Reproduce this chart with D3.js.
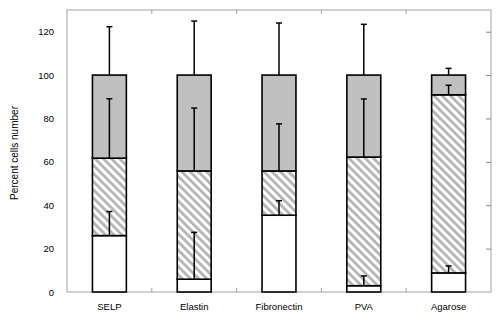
<!DOCTYPE html>
<html>
<head>
<meta charset="utf-8">
<script src="https://cdn.jsdelivr.net/npm/d3@7"></script>
<style>
  body { margin: 0; background: #fff; }
  svg { display: block; font-family: "Liberation Sans", Arial, sans-serif; }
</style>
</head>
<body>
<div id="chart"></div>
<script>
// data //
const categories = ["SELP", "Elastin", "Fibronectin", "PVA", "Agarose"];
// stacked segments (bottom -> top)
const whiteVals  = [26.0, 5.9, 35.4, 2.9, 8.8];
const hatchVals  = [35.7, 49.9, 20.4, 59.3, 82.1];
const grayVals   = [38.3, 44.2, 44.2, 37.8, 9.1];
// upper error of each segment
const whiteErr = [11.1, 21.6, 6.7, 4.5, 3.2];
const hatchErr = [27.4, 29.0, 21.7, 26.8, 4.4];
const grayErr  = [22.3, 24.9, 24.0, 23.4, 3.1];
const yTicks = [0, 20, 40, 60, 80, 100, 120];

const W = 500, H = 317;
const plotL = 67, plotR = 491, plotT = 10, plotB = 292;

const svg = d3.select("#chart").append("svg")
  .attr("width", W)
  .attr("height", H);

// hatch pattern
const defs = svg.append("defs");
defs.append("pattern")
  .attr("id", "hatch")
  .attr("patternUnits", "userSpaceOnUse")
  .attr("width", 5.8)
  .attr("height", 5.8)
  .attr("patternTransform", "rotate(-45)")
  .call(p => {
    p.append("rect").attr("width", 5.8).attr("height", 5.8).attr("fill", "#fff");
    p.append("rect").attr("width", 2.8).attr("height", 5.8).attr("fill", "#b4b4b4");
  });

const x = d3.scaleBand()
  .domain(categories)
  .range([plotL, plotR])
  .padding(0);

const y = d3.scaleLinear()
  .domain([0, 130])
  .range([plotB, plotT]);

const barW = x.step() * 0.4;

// frame
const axisColor = "#a0a0a0";
svg.append("rect")
  .attr("x", plotL).attr("y", plotT)
  .attr("width", plotR - plotL).attr("height", plotB - plotT)
  .attr("fill", "none")
  .attr("stroke", axisColor);

// left axis labels
const yAxis = svg.append("g")
  .attr("transform", `translate(${plotL},0)`)
  .call(d3.axisLeft(y).tickValues(yTicks).tickSize(0).tickPadding(13));
yAxis.select(".domain").remove();
yAxis.selectAll("text")
  .attr("font-size", 9.5)
  .attr("font-family", "Liberation Sans, Arial, sans-serif")
  .attr("fill", "#000");

// right axis inward ticks
svg.append("g")
  .attr("transform", `translate(${plotR},0)`)
  .call(d3.axisLeft(y).tickValues(yTicks.slice(1)).tickSize(5).tickFormat(""))
  .call(g => g.select(".domain").remove())
  .selectAll(".tick line").attr("stroke", "#888");

// category boundary ticks, bottom (up) and top (down)
const bounds = categories.slice(1).map(c => x(c));
svg.append("g").selectAll("line")
  .data(bounds).join("line")
  .attr("x1", d => d).attr("x2", d => d)
  .attr("y1", plotB).attr("y2", plotB - 4)
  .attr("stroke", axisColor);
svg.append("g").selectAll("line")
  .data(bounds).join("line")
  .attr("x1", d => d).attr("x2", d => d)
  .attr("y1", plotT).attr("y2", plotT + 4)
  .attr("stroke", axisColor);

// category labels
const xAxis = svg.append("g")
  .attr("transform", `translate(0,${plotB})`)
  .call(d3.axisBottom(x).tickSize(0).tickPadding(11));
xAxis.select(".domain").remove();
xAxis.selectAll("text")
  .attr("font-size", 9.5)
  .attr("font-family", "Liberation Sans, Arial, sans-serif")
  .attr("fill", "#000");

// y axis title
svg.append("text")
  .attr("transform", `translate(18,${(plotT + plotB) / 2 + 2}) rotate(-90)`)
  .attr("text-anchor", "middle")
  .attr("font-size", 10)
  .text("Percent cells number");

// stacked bars
const segs = [];
categories.forEach((c, i) => {
  const b0 = 0, b1 = whiteVals[i], b2 = b1 + hatchVals[i], b3 = b2 + grayVals[i];
  segs.push({ c, y0: b0, y1: b1, fill: "#fff", err: whiteErr[i] });
  segs.push({ c, y0: b1, y1: b2, fill: "url(#hatch)", err: hatchErr[i] });
  segs.push({ c, y0: b2, y1: b3, fill: "#c0c0c0", err: grayErr[i] });
});

svg.append("g").selectAll("rect")
  .data(segs).join("rect")
  .attr("x", d => x(d.c) + x.bandwidth() / 2 - barW / 2)
  .attr("y", d => y(d.y1))
  .attr("width", barW)
  .attr("height", d => y(d.y0) - y(d.y1))
  .attr("fill", d => d.fill)
  .attr("stroke", "#000")
  .attr("stroke-width", 1.6);

// error bars (upward only)
const eb = svg.append("g").attr("stroke", "#000").attr("stroke-width", 1.5);
segs.forEach(d => {
  const cx = x(d.c) + x.bandwidth() / 2;
  eb.append("line")
    .attr("x1", cx).attr("x2", cx)
    .attr("y1", y(d.y1)).attr("y2", y(d.y1 + d.err));
  eb.append("line")
    .attr("x1", cx - 3).attr("x2", cx + 3)
    .attr("y1", y(d.y1 + d.err)).attr("y2", y(d.y1 + d.err));
});
</script>
</body>
</html>
